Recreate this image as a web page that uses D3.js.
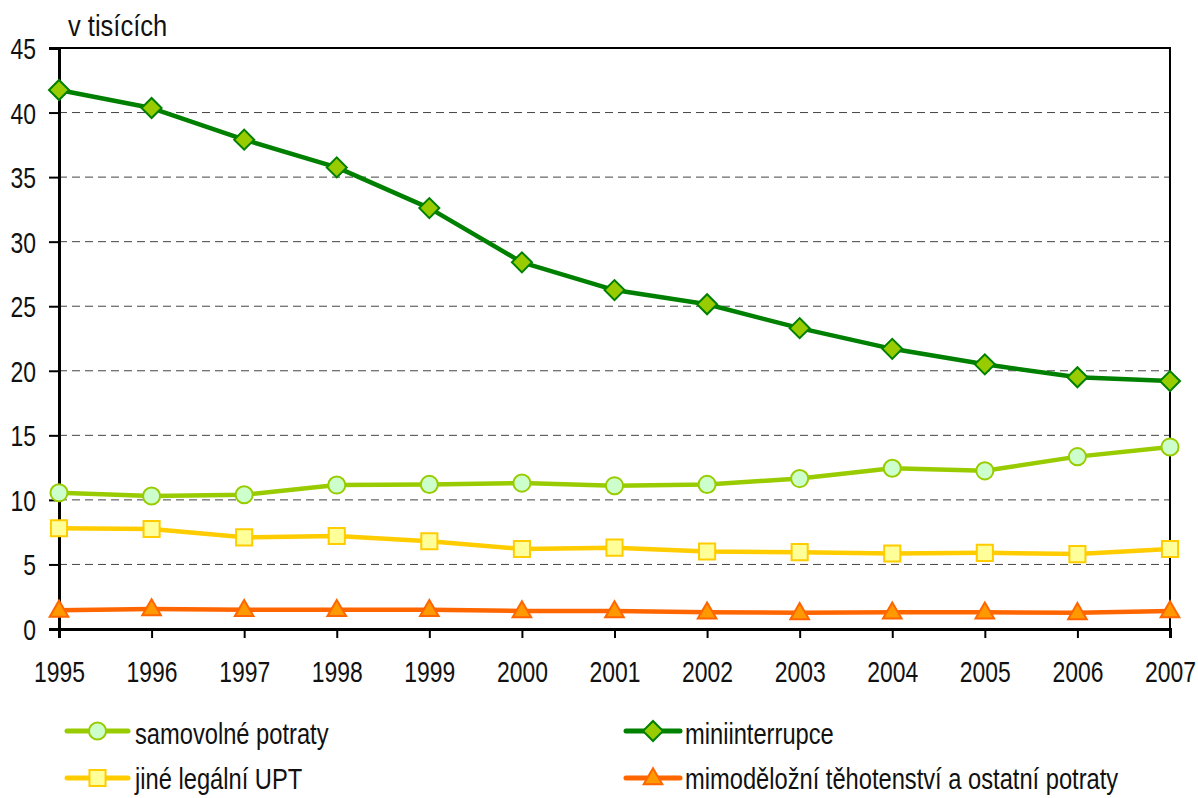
<!DOCTYPE html>
<html>
<head>
<meta charset="utf-8">
<script src="https://cdn.jsdelivr.net/npm/d3@7"></script>
<style>
  body { margin: 0; background: #fff; }
  svg text { font-family: "Liberation Sans", Arial, sans-serif; fill: #111; }
</style>
</head>
<body>
<div id="wrapper"></div>
<script>
// data (v tisících)
const years = [1995, 1996, 1997, 1998, 1999, 2000, 2001, 2002, 2003, 2004, 2005, 2006, 2007]
const samovolne = [10.55, 10.3, 10.4, 11.15, 11.2, 11.3, 11.1, 11.2, 11.65, 12.45, 12.25, 13.35, 14.1]
const miniinterrupce = [41.75, 40.35, 37.9, 35.75, 32.6, 28.4, 26.25, 25.15, 23.3, 21.7, 20.5, 19.5, 19.2]
const jineUPT = [7.8, 7.75, 7.1, 7.2, 6.8, 6.2, 6.3, 6.0, 5.95, 5.85, 5.9, 5.8, 6.2]
const mimodelozni = [1.45, 1.55, 1.5, 1.5, 1.5, 1.4, 1.4, 1.3, 1.25, 1.3, 1.3, 1.25, 1.4]
const yTicks = [0, 5, 10, 15, 20, 25, 30, 35, 40, 45]

const series = [
  { name: 'samovolné potraty', values: samovolne, line: '#99cc00', fill: '#ccffcc', symbol: d3.symbolCircle, size: 230, rotate: 0, dy: 0 },
  { name: 'miniinterrupce', values: miniinterrupce, line: '#008000', fill: '#99cc00', symbol: d3.symbolSquare, size: 200, rotate: 45, dy: 0 },
  { name: 'jiné legální UPT', values: jineUPT, line: '#ffcc00', fill: '#ffff99', symbol: d3.symbolSquare, size: 260, rotate: 0, dy: 0 },
  { name: 'mimoděložní těhotenství a ostatní potraty', values: mimodelozni, line: '#ff6600', fill: '#ff9900', symbol: d3.symbolTriangle, size: 150, rotate: 0, dy: 1 }
]

// narrow font look (Arial Narrow is not installed)
const squeeze = 0.79

let dimensions = {
  width: 1198,
  height: 798,
  margin: { top: 48, right: 28, bottom: 169, left: 59 }
}
dimensions.boundedWidth = dimensions.width - dimensions.margin.left - dimensions.margin.right
dimensions.boundedHeight = dimensions.height - dimensions.margin.top - dimensions.margin.bottom

const wrapper = d3.select('#wrapper')
  .append('svg')
    .attr('width', dimensions.width)
    .attr('height', dimensions.height)

const bounds = wrapper.append('g')
  .attr('transform', `translate(${dimensions.margin.left},${dimensions.margin.top})`)

const xScale = d3.scaleLinear()
  .domain(d3.extent(years))
  .range([0, dimensions.boundedWidth])

const yScale = d3.scaleLinear()
  .domain([0, 45])
  .range([dimensions.boundedHeight, 0])

// gridlines
bounds.append('g')
  .selectAll('line')
  .data(yTicks.filter(d => d > 0 && d < 45))
  .enter().append('line')
    .attr('x1', 0)
    .attr('x2', dimensions.boundedWidth)
    .attr('y1', d => yScale(d))
    .attr('y2', d => yScale(d))
    .attr('stroke', '#444')
    .attr('stroke-width', 1)
    .attr('stroke-dasharray', '8,5')

// frame (top + right)
bounds.append('path')
  .attr('d', `M0,0H${dimensions.boundedWidth}V${dimensions.boundedHeight}`)
  .attr('fill', 'none')
  .attr('stroke', '#000')
  .attr('stroke-width', 2)

// axes
const yAxis = bounds.append('g')
  .call(d3.axisLeft(yScale).tickValues(yTicks).tickSize(10))
yAxis.select('.domain').attr('stroke-width', 3)
yAxis.selectAll('.tick line').attr('stroke-width', 2)
yAxis.selectAll('.tick text')
  .style('font-size', '29px')
  .attr('fill', '#111')
  .attr('x', -23 / squeeze)
  .attr('dy', '0.36em')
  .attr('transform', `scale(${squeeze},1)`)

const xAxis = bounds.append('g')
  .attr('transform', `translate(0,${dimensions.boundedHeight})`)
  .call(d3.axisBottom(xScale).tickValues(years).tickFormat(d3.format('d')).tickSize(9))
xAxis.select('.domain').attr('stroke-width', 3)
xAxis.selectAll('.tick line').attr('stroke-width', 2)
xAxis.selectAll('.tick text')
  .style('font-size', '29px')
  .attr('fill', '#111')
  .attr('y', 53)
  .attr('dy', 0)
  .attr('transform', `scale(${squeeze},1)`)

wrapper.append('text')
  .attr('x', 68 / 0.85)
  .attr('y', 36)
  .attr('transform', 'scale(0.85,1)')
  .style('font-size', '30px')
  .text('v tisících')

// lines and markers
const lineGen = (s) => d3.line()
  .x((d, i) => xScale(years[i]))
  .y(d => yScale(d))(s.values)

series.forEach(s => {
  bounds.append('path')
    .attr('d', lineGen(s))
    .attr('fill', 'none')
    .attr('stroke', s.line)
    .attr('stroke-width', 4.5)
    .attr('stroke-linejoin', 'round')

  bounds.append('g')
    .selectAll('path')
    .data(s.values)
    .enter().append('path')
      .attr('d', d3.symbol().type(s.symbol).size(s.size))
      .attr('transform', (d, i) => `translate(${xScale(years[i])},${yScale(d) + s.dy}) rotate(${s.rotate})`)
      .attr('fill', s.fill)
      .attr('stroke', s.line)
      .attr('stroke-width', 2)
})

// legend
const legendPos = [
  { x: 67, y: 731, len: 61, tx: 68, ty: 13 },
  { x: 626, y: 731, len: 54, tx: 59, ty: 13 },
  { x: 67, y: 778, len: 61, tx: 68, ty: 11 },
  { x: 626, y: 778, len: 54, tx: 59, ty: 11 }
]
series.forEach((s, i) => {
  const p = legendPos[i]
  const g = wrapper.append('g').attr('transform', `translate(${p.x},${p.y})`)
  g.append('line')
    .attr('x1', 0).attr('x2', p.len)
    .attr('stroke', s.line)
    .attr('stroke-width', 5)
    .attr('stroke-linecap', 'round')
  g.append('path')
    .attr('d', d3.symbol().type(s.symbol).size(s.size))
    .attr('transform', `translate(${p.len / 2},${s.dy}) rotate(${s.rotate})`)
    .attr('fill', s.fill)
    .attr('stroke', s.line)
    .attr('stroke-width', 2)
  g.append('text')
    .attr('x', p.tx / squeeze)
    .attr('y', p.ty)
    .attr('transform', `scale(${squeeze},1)`)
    .style('font-size', '30px')
    .text(s.name)
})
</script>
</body>
</html>
